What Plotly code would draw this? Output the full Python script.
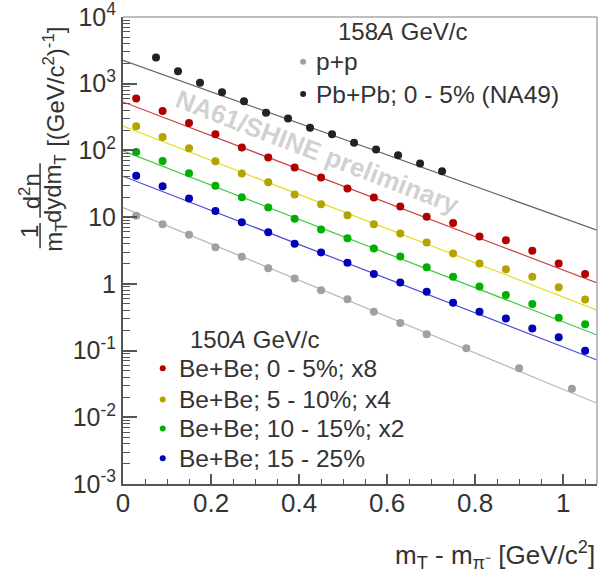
import plotly.graph_objects as go

# ---------------- data ----------------
be_x = [0.03, 0.09, 0.15, 0.21, 0.27, 0.33, 0.39, 0.45, 0.51, 0.57,
        0.63, 0.69, 0.75, 0.81, 0.87, 0.93, 0.99, 1.05]
be_0_5_x8 = [600, 391, 258, 175, 111, 78.3, 55.5, 39.4, 26.9, 19.7,
             14.5, 10.1, 8.2, 5.14, 4.52, 3.13, 2.02, 1.40]
be_5_10_x4 = [231, 159, 108, 68.9, 45.1, 33.4, 21.9, 15.6, 10.7, 7.85,
              5.69, 4.15, 2.86, 2.02, 1.66, 1.275, 0.893, 0.585]
be_10_15_x2 = [95.0, 69.7, 45.6, 29.6, 19.9, 13.9, 9.42, 6.54, 4.84, 3.40,
               2.56, 1.78, 1.275, 0.91, 0.678, 0.498, 0.310, 0.249]
be_15_25 = [41.8, 29.1, 19.05, 12.4, 8.41, 5.96, 3.98, 2.96, 2.07, 1.40,
            1.05, 0.760, 0.520, 0.381, 0.303, 0.215, 0.158, 0.0993]

pp_x = [0.03, 0.09, 0.15, 0.21, 0.27, 0.33, 0.39, 0.45, 0.51, 0.57,
        0.63, 0.69, 0.78, 0.90, 1.02]
pp_y = [10.5, 7.85, 5.43, 3.55, 2.54, 1.72, 1.20, 0.805, 0.590, 0.381,
        0.258, 0.175, 0.108, 0.0541, 0.0268]

pbpb_x = [0.075, 0.125, 0.175, 0.225, 0.275, 0.325, 0.375, 0.425, 0.475,
          0.525, 0.575, 0.625, 0.675, 0.725]
pbpb_y = [2466, 1537, 1034, 745, 546, 367, 301, 219, 175, 130, 103, 84.8,
          63.7, 48.8]

# exponential fit lines: value at left and right end of the axis
fit_x = [0.0, 1.077]
fit_pbpb = [2246, 6.38]
fit_be_0_5 = [533, 1.03]
fit_be_5_10 = [231, 0.404]
fit_be_10_15 = [98.4, 0.171]
fit_be_15_25 = [41.1, 0.0721]
fit_pp = [13.96, 0.0162]

x_tickvals = [0, 0.2, 0.4, 0.6, 0.8, 1.0]
x_ticktext = ["0", "0.2", "0.4", "0.6", "0.8", "1"]
y_tickvals = [1e-3, 1e-2, 1e-1, 1, 10, 1e2, 1e3, 1e4]
y_ticktext = ["10<sup>-3</sup>", "10<sup>-2</sup>", "10<sup>-1</sup>", "1",
              "10", "10<sup>2</sup>", "10<sup>3</sup>", "10<sup>4</sup>"]

upper_legend = ["p+p", "Pb+Pb; 0 - 5% (NA49)"]
lower_legend = ["Be+Be; 0 - 5%; x8", "Be+Be; 5 - 10%; x4",
                "Be+Be; 10 - 15%; x2", "Be+Be; 15 - 25%"]

# ---------------- styles ----------------
FONT = "Liberation Sans, Arial, Helvetica, sans-serif"
TXT = "#333333"
series = [
    (pbpb_x, pbpb_y, fit_pbpb, "#222222", "#666666"),
    (be_x, be_0_5_x8, fit_be_0_5, "#b00000", "#d04545"),
    (be_x, be_5_10_x4, fit_be_5_10, "#b3a300", "#e3df20"),
    (be_x, be_10_15_x2, fit_be_10_15, "#00b000", "#40c840"),
    (be_x, be_15_25, fit_be_15_25, "#0000b4", "#4848d8"),
    (pp_x, pp_y, fit_pp, "#a0a0a0", "#b4b4b4"),
]

fig = go.Figure()
for xs, ys, fy, mc, lc in series:
    fig.add_trace(go.Scatter(x=fit_x, y=fy, mode="lines",
                             line=dict(color=lc, width=1.2),
                             hoverinfo="skip", showlegend=False))
for xs, ys, fy, mc, lc in series:
    fig.add_trace(go.Scatter(x=xs, y=ys, mode="markers",
                             marker=dict(color=mc, size=8),
                             showlegend=False))

# legend markers on an overlay paper-like axis pair
up_pos_y = [0.904, 0.835]
up_cols = ["#a0a0a0", "#222222"]
lo_pos_y = [0.248, 0.181, 0.119, 0.055]
lo_cols = ["#b00000", "#b3a300", "#00b000", "#0000b4"]
fig.add_trace(go.Scatter(x=[0.380] * 2, y=up_pos_y, mode="markers",
                         marker=dict(color=up_cols, size=6),
                         xaxis="x2", yaxis="y2", showlegend=False,
                         hoverinfo="skip"))
fig.add_trace(go.Scatter(x=[0.0838] * 4, y=lo_pos_y, mode="markers",
                         marker=dict(color=lo_cols, size=6),
                         xaxis="x2", yaxis="y2", showlegend=False,
                         hoverinfo="skip"))

ann = []
ann.append(dict(x=0.589, y=0.968, text="158<i>A</i> GeV/c", showarrow=False,
                xref="paper", yref="paper", xanchor="center", yanchor="middle",
                font=dict(size=24, color=TXT, family=FONT)))
for t, yy in zip(upper_legend, up_pos_y):
    ann.append(dict(x=0.403, y=yy, text=t, showarrow=False, xref="paper",
                    yref="paper", xanchor="left", yanchor="middle",
                    font=dict(size=24.5, color=TXT, family=FONT)))
ann.append(dict(x=0.278, y=0.310, text="150<i>A</i> GeV/c", showarrow=False,
                xref="paper", yref="paper", xanchor="center", yanchor="middle",
                font=dict(size=24, color=TXT, family=FONT)))
for t, yy in zip(lower_legend, lo_pos_y):
    ann.append(dict(x=0.113, y=yy, text=t, showarrow=False, xref="paper",
                    yref="paper", xanchor="left", yanchor="middle",
                    font=dict(size=24.5, color=TXT, family=FONT)))
# watermark
ann.append(dict(x=0.411, y=0.711, text="<b>NA61/SHINE preliminary</b>",
                showarrow=False, xref="paper", yref="paper", textangle=21,
                xanchor="center", yanchor="middle",
                font=dict(size=26, color="rgba(150,150,150,0.45)", family=FONT)))
# x axis title
ann.append(dict(x=1.0, y=-0.152,
                text="m<sub>T</sub> - m<sub>π⁻</sub> [GeV/c<sup>2</sup>]",
                showarrow=False, xref="paper", yref="paper", xanchor="right",
                yanchor="middle", font=dict(size=26, color=TXT, family=FONT)))
# y axis title (fraction pieces, rotated)
ytitle_parts = [
    ("1", -0.196, 0.540),
    ("m<sub>T</sub>", -0.143, 0.530),
    ("d<sup>2</sup>n", -0.196, 0.627),
    ("dydm<sub>T</sub>", -0.143, 0.632),
    ("[(GeV/c<sup>2</sup>)<sup>-1</sup>]", -0.146, 0.850),
]
for t, xx, yy in ytitle_parts:
    ann.append(dict(x=xx, y=yy, text=t, showarrow=False, xref="paper",
                    yref="paper", textangle=-90, xanchor="center",
                    yanchor="middle",
                    font=dict(size=24, color=TXT, family=FONT)))

shapes = [
    dict(type="line", xref="paper", yref="paper", x0=-0.175, x1=-0.175,
         y0=0.505, y1=0.559, line=dict(color=TXT, width=1.5)),
    dict(type="line", xref="paper", yref="paper", x0=-0.175, x1=-0.175,
         y0=0.570, y1=0.687, line=dict(color=TXT, width=1.5)),
    dict(type="line", xref="paper", yref="paper", x0=0, x1=1, y0=1, y1=1,
         line=dict(color="#a8a8a8", width=1.5)),
    dict(type="line", xref="paper", yref="paper", x0=1, x1=1, y0=0, y1=1,
         line=dict(color="#a8a8a8", width=1.5)),
]

fig.update_layout(
    width=616, height=576,
    margin=dict(l=123, r=19, t=17, b=92, autoexpand=False),
    paper_bgcolor="white", plot_bgcolor="white",
    font=dict(family=FONT, color=TXT),
    showlegend=False,
    annotations=ann, shapes=shapes,
    xaxis=dict(range=[0, 1.077], tickvals=x_tickvals, ticktext=x_ticktext,
               ticks="inside", ticklen=10, tickwidth=1.5, tickcolor="#555",
               showline=True, linecolor="#555", linewidth=2,
               showgrid=False, zeroline=False, automargin=False,
               ticklabelstandoff=-5, ticklabeloverflow="allow",
               tickfont=dict(size=26, color=TXT, family=FONT),
               minor=dict(ticks="inside", ticklen=5, dtick=0.05,
                          tickcolor="#555", tickwidth=1.2, showgrid=False)),
    yaxis=dict(type="log", range=[-3, 4], tickvals=y_tickvals,
               ticktext=y_ticktext,
               ticks="inside", ticklen=14, tickwidth=1.5, tickcolor="#555",
               showline=True, linecolor="#555", linewidth=2,
               showgrid=False, zeroline=False, automargin=False,
               ticklabeloverflow="allow",
               tickfont=dict(size=25, color=TXT, family=FONT),
               minor=dict(ticks="inside", ticklen=7, dtick="D1",
                          tickcolor="#555", tickwidth=1.2, showgrid=False)),
    xaxis2=dict(overlaying="x", range=[0, 1], visible=False),
    yaxis2=dict(overlaying="y", range=[0, 1], visible=False),
)

fig.write_html("out.html", config={"displayModeBar": False},
               post_script="document.body.style.margin='0px';")
